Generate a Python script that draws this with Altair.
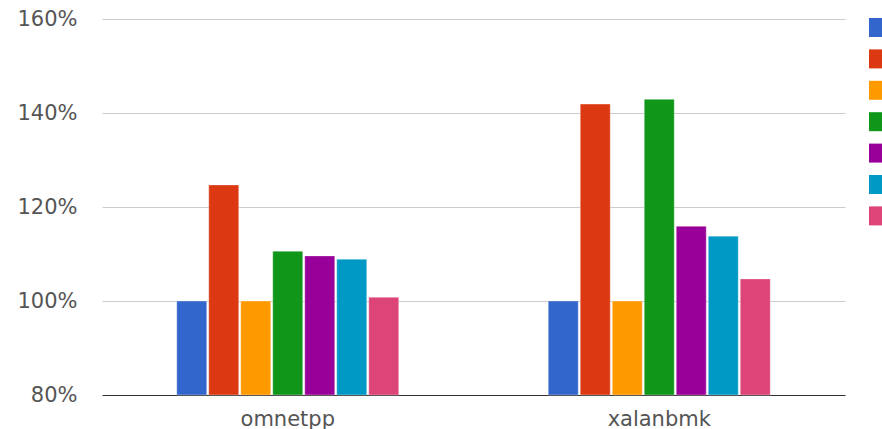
import altair as alt
import pandas as pd

benchmarks = ["omnetpp", "xalanbmk"]
series = ["Series 1", "Series 2", "Series 3", "Series 4", "Series 5", "Series 6", "Series 7"]
colors = ["#3366cc", "#dc3912", "#ff9900", "#109618", "#990099", "#0099c6", "#dd4477"]
omnetpp_vals = [100.0, 124.7, 100.0, 110.6, 109.6, 108.9, 100.8]
xalanbmk_vals = [100.0, 141.9, 100.0, 142.9, 115.9, 113.8, 104.7]
y_ticks = [80, 100, 120, 140, 160]

rows = []
for b, vals in zip(benchmarks, [omnetpp_vals, xalanbmk_vals]):
    for s, v in zip(series, vals):
        rows.append({"benchmark": b, "series": s, "value": v})
df = pd.DataFrame(rows)

FONT = "DejaVu Sans"
TEXT = "#555555"

bars = alt.Chart(df).mark_bar(stroke="white", strokeOpacity=0.35, strokeWidth=1).encode(
    x=alt.X("benchmark:N", sort=benchmarks,
            scale=alt.Scale(paddingInner=0.397, paddingOuter=0.1985),
            axis=alt.Axis(title=None, labelAngle=0, ticks=False, labelPadding=13,
                          labelFont=FONT, labelFontSize=21, labelColor=TEXT,
                          domainColor="#333", domainWidth=1, grid=False)),
    xOffset=alt.XOffset("series:N", sort=series,
                        scale=alt.Scale(paddingInner=0.0625, paddingOuter=0.03125)),
    y=alt.Y("value:Q", scale=alt.Scale(domain=[80, 160], zero=False, nice=False),
            axis=alt.Axis(title=None, values=y_ticks, labelExpr="datum.value + '%'",
                          ticks=False, domain=False, labelPadding=25,
                          labelFont=FONT, labelFontSize=21, labelColor=TEXT,
                          gridColor="#cccccc", gridWidth=1)),
    y2=alt.Y2(datum=80),
    color=alt.Color("series:N", sort=series,
                    scale=alt.Scale(domain=series, range=colors),
                    legend=alt.Legend(title=None, orient="none", legendX=767, legendY=-1,
                                      padding=0, symbolType="square", symbolSize=361,
                                      symbolStrokeWidth=0, rowPadding=12.4,
                                      labelFontSize=14, labelFont=FONT, labelOffset=14,
                                      labelColor="#222")),
)

chart = bars.properties(
    width=743,
    height=376,
    autosize=alt.AutoSizeParams(type="none"),
    padding={"left": 102, "top": 19, "right": 37, "bottom": 34},
).configure(background="white").configure_view(stroke=None)

chart.save("out.html", embed_options={"renderer": "svg", "actions": False})
